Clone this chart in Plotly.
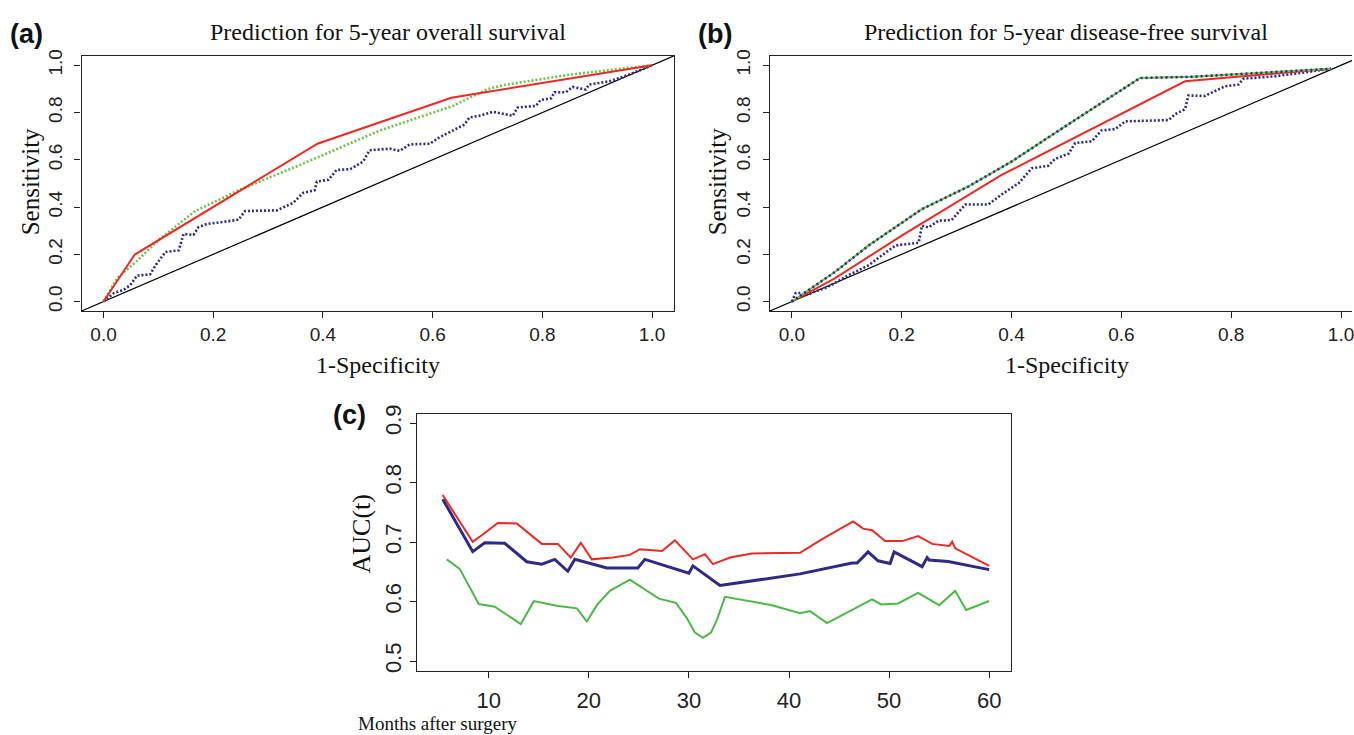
import plotly.graph_objects as go

# ---------------- data ----------------
# Panel (a): ROC, 5-year overall survival
a_red_fpr = [0.0, 0.057, 0.39, 0.634, 1.0]
a_red_tpr = [0.0, 0.199, 0.668, 0.8625, 1.0]

a_green_fpr = [0.0, 0.025, 0.06, 0.10, 0.167, 0.249, 0.35, 0.485, 0.504, 0.637, 0.698, 0.727, 0.849, 1.0]
a_green_tpr = [0.0, 0.099, 0.17, 0.26, 0.383, 0.474, 0.57, 0.703, 0.724, 0.828, 0.897, 0.915, 0.96, 1.0]

a_blue_fpr = [0.0, 0.019, 0.037, 0.049, 0.061, 0.085, 0.095, 0.104, 0.113, 0.137, 0.146, 0.164, 0.173,
              0.188, 0.213, 0.246, 0.258, 0.316, 0.346, 0.364, 0.385, 0.389, 0.41, 0.425, 0.449, 0.473,
              0.485, 0.522, 0.54, 0.558, 0.595, 0.613, 0.631, 0.658, 0.667, 0.685, 0.71, 0.728, 0.746,
              0.755, 0.788, 0.797, 0.816, 0.822, 0.843, 0.855, 0.867, 0.879, 0.885, 0.922, 0.958, 1.0]
a_blue_tpr = [0.0, 0.036, 0.05, 0.07, 0.11, 0.115, 0.154, 0.182, 0.21, 0.217, 0.286, 0.282, 0.314,
              0.328, 0.335, 0.346, 0.383, 0.386, 0.418, 0.46, 0.471, 0.508, 0.515, 0.557, 0.56, 0.592,
              0.64, 0.647, 0.6375, 0.665, 0.668, 0.696, 0.717, 0.749, 0.779, 0.786, 0.803, 0.796, 0.786,
              0.821, 0.828, 0.853, 0.86, 0.886, 0.886, 0.908, 0.901, 0.897, 0.918, 0.932, 0.96, 1.0]

# Panel (b): ROC, 5-year disease-free survival
b_red_fpr = [0.0, 0.079, 0.2, 0.382, 0.716, 0.982]
b_red_tpr = [0.0, 0.099, 0.279, 0.536, 0.932, 0.985]

b_green_fpr = [0.0, 0.079, 0.14, 0.236, 0.322, 0.4, 0.504, 0.634, 0.728, 0.849, 0.982]
b_green_tpr = [0.0, 0.126, 0.2375, 0.39, 0.4875, 0.592, 0.751, 0.946, 0.951, 0.967, 0.985]

b_blue_fpr = [0.0, 0.007, 0.016, 0.024, 0.043, 0.064, 0.104, 0.14, 0.164, 0.189, 0.231, 0.237, 0.249,
              0.267, 0.291, 0.316, 0.358, 0.382, 0.413, 0.437, 0.467, 0.479, 0.504, 0.516, 0.546, 0.564,
              0.589, 0.607, 0.686, 0.698, 0.716, 0.722, 0.752, 0.771, 0.789, 0.813, 0.822, 0.879, 0.982]
b_blue_tpr = [0.0, 0.036, 0.036, 0.026, 0.043, 0.06, 0.1125, 0.154, 0.196, 0.2375, 0.249, 0.321, 0.314,
              0.342, 0.345, 0.411, 0.411, 0.453, 0.501, 0.564, 0.575, 0.603, 0.626, 0.671, 0.678, 0.724,
              0.73, 0.7625, 0.768, 0.793, 0.814, 0.872, 0.87, 0.89, 0.911, 0.918, 0.943, 0.953, 0.985]

# Panel (c): time-dependent AUC
c_red_months = [5.4, 8.4, 9.4, 10.9, 12.8, 15.3, 16.9, 18.2, 19.2, 20.3, 22.4, 24.1, 25.1, 27.3, 28.6,
                30.4, 31.6, 32.4, 34.1, 36.3, 41.1, 43.1, 46.4, 47.4, 48.3, 49.6, 51.3, 52.9, 54.3,
                56.0, 56.3, 56.6, 60.0]
c_red_auc = [0.779, 0.7005, 0.7127, 0.732, 0.7314, 0.697, 0.697, 0.674, 0.699, 0.671, 0.674, 0.6785,
             0.688, 0.685, 0.7028, 0.671, 0.6797, 0.663, 0.674, 0.681, 0.682, 0.703, 0.7347, 0.7226,
             0.72, 0.7017, 0.7017, 0.71, 0.697, 0.6934, 0.7005, 0.6896, 0.660]

c_blue_months = [5.4, 8.4, 9.6, 11.6, 13.8, 15.3, 16.6, 17.9, 18.6, 21.8, 24.9, 25.6, 30.0, 30.4, 33.1,
                 41.1, 46.3, 46.8, 47.9, 48.9, 50.1, 50.5, 53.3, 53.8, 54.0, 55.9, 60.0]
c_blue_auc = [0.7722, 0.684, 0.699, 0.698, 0.667, 0.663, 0.671, 0.651, 0.671, 0.6565, 0.6565, 0.671,
              0.6476, 0.660, 0.627, 0.6466, 0.6648, 0.6648, 0.6835, 0.6686, 0.664, 0.6835, 0.6587,
              0.674, 0.67, 0.6675, 0.6537]

c_green_months = [5.8, 7.1, 9.0, 10.6, 13.2, 14.5, 16.8, 18.8, 19.8, 20.8, 22.1, 24.1, 27.0, 28.7, 29.8,
                  30.6, 31.4, 32.2, 32.8, 33.6, 38.3, 41.1, 42.1, 43.8, 48.3, 49.2, 50.9, 52.9, 55.0,
                  56.6, 57.7, 60.0]
c_green_auc = [0.671, 0.655, 0.596, 0.5915, 0.5623, 0.6008, 0.593, 0.5887, 0.5667, 0.594, 0.618, 0.637,
               0.605, 0.598, 0.572, 0.548, 0.539, 0.548, 0.5694, 0.608, 0.594, 0.5805, 0.584, 0.564,
               0.6036, 0.5953, 0.597, 0.6146, 0.594, 0.618, 0.586, 0.601]

roc_ticks = [0.0, 0.2, 0.4, 0.6, 0.8, 1.0]
roc_range = [-0.04, 1.04]
b_x_range = [-0.04, 1.02]
c_x_ticks = [10, 20, 30, 40, 50, 60]
c_y_ticks = [0.5, 0.6, 0.7, 0.8, 0.9]
c_x_range = [2.8, 62.2]
c_y_range = [0.484, 0.916]

# ---------------- style ----------------
W, H = 1354, 735
RED = "#EC2A23"
NAVY = "#2D2B85"
GREEN_DOT = "#6CC24A"
GREEN = "#4DB848"
SANS = "Liberation Sans, Arial, sans-serif"
SERIF = "Liberation Serif, Times New Roman, serif"


def px_x(p):
    return p / W


def px_y(p):
    return 1 - p / H


fig = go.Figure()

# Panel (a)
fig.add_trace(go.Scatter(x=roc_range, y=roc_range, mode="lines",
                         line=dict(color="black", width=1.2), xaxis="x", yaxis="y"))
fig.add_trace(go.Scatter(x=a_blue_fpr, y=a_blue_tpr, mode="lines",
                         line=dict(color=NAVY, width=2.6, dash="2px,2px"), xaxis="x", yaxis="y"))
fig.add_trace(go.Scatter(x=a_green_fpr, y=a_green_tpr, mode="lines",
                         line=dict(color=GREEN_DOT, width=2.6, dash="2px,2px"), xaxis="x", yaxis="y"))
fig.add_trace(go.Scatter(x=a_red_fpr, y=a_red_tpr, mode="lines",
                         line=dict(color=RED, width=2), xaxis="x", yaxis="y"))

# Panel (b)
fig.add_trace(go.Scatter(x=roc_range, y=roc_range, mode="lines",
                         line=dict(color="black", width=1.2), xaxis="x2", yaxis="y2"))
fig.add_trace(go.Scatter(x=b_blue_fpr, y=b_blue_tpr, mode="lines",
                         line=dict(color=NAVY, width=2.6, dash="2px,2px"), xaxis="x2", yaxis="y2"))
fig.add_trace(go.Scatter(x=b_red_fpr, y=b_red_tpr, mode="lines",
                         line=dict(color=RED, width=2), xaxis="x2", yaxis="y2"))
fig.add_trace(go.Scatter(x=b_green_fpr, y=b_green_tpr, mode="lines",
                         line=dict(color=GREEN_DOT, width=2), xaxis="x2", yaxis="y2"))
fig.add_trace(go.Scatter(x=b_green_fpr, y=b_green_tpr, mode="lines",
                         line=dict(color=NAVY, width=2.6, dash="2px,3px"), xaxis="x2", yaxis="y2"))

# Panel (c)
fig.add_trace(go.Scatter(x=c_green_months, y=c_green_auc, mode="lines",
                         line=dict(color=GREEN, width=2), xaxis="x3", yaxis="y3"))
fig.add_trace(go.Scatter(x=c_red_months, y=c_red_auc, mode="lines",
                         line=dict(color=RED, width=2), xaxis="x3", yaxis="y3"))
fig.add_trace(go.Scatter(x=c_blue_months, y=c_blue_auc, mode="lines",
                         line=dict(color=NAVY, width=3), xaxis="x3", yaxis="y3"))

axis_base = dict(showline=True, linecolor="#222", linewidth=1.2,
                 showgrid=False, zeroline=False, ticks="outside", ticklen=6,
                 tickcolor="#222", tickwidth=1.2)
axis_common = dict(mirror=True, **axis_base)

roc_tickfont = dict(family=SANS, size=19, color="#222")
c_tickfont = dict(family=SANS, size=22, color="#222")

fig.update_layout(
    width=W, height=H, autosize=False,
    margin=dict(l=0, r=0, t=0, b=0),
    paper_bgcolor="white", plot_bgcolor="white",
    showlegend=False,
    xaxis=dict(domain=[px_x(81.7), px_x(675)], range=roc_range, tickvals=roc_ticks,
               tickformat=".1f", tickfont=roc_tickfont, anchor="y", **axis_common),
    yaxis=dict(domain=[px_y(306.6), px_y(47.5)], range=roc_range, tickvals=roc_ticks,
               tickformat=".1f", tickfont=roc_tickfont, tickangle=-90, anchor="x",
               ticklabelstandoff=5, **axis_common),
    xaxis2=dict(domain=[px_x(771), 1.0], range=b_x_range, tickvals=roc_ticks,
                tickformat=".1f", tickfont=roc_tickfont, anchor="y2",
                ticklabeloverflow="allow", **axis_common),
    yaxis2=dict(domain=[px_y(306.6), px_y(47.5)], range=roc_range, tickvals=roc_ticks,
                tickformat=".1f", tickfont=roc_tickfont, tickangle=-90, anchor="x2",
                ticklabelstandoff=5, mirror=False, **axis_base),
    xaxis3=dict(domain=[px_x(417.3), px_x(1012.7)], range=c_x_range, tickvals=c_x_ticks,
                tickfont=c_tickfont, anchor="y3", ticklabelstandoff=4, **axis_common),
    yaxis3=dict(domain=[px_y(671.7), px_y(410.7)], range=c_y_range, tickvals=c_y_ticks,
                tickformat=".1f", tickfont=c_tickfont, tickangle=-90, anchor="x3", **axis_common),
)


def note(text, x, y, size, family, bold=False, angle=0, xanchor="center", yanchor="middle"):
    fig.add_annotation(text=("<b>%s</b>" % text) if bold else text,
                       x=px_x(x), y=px_y(y), xref="paper", yref="paper",
                       showarrow=False, textangle=angle, xanchor=xanchor, yanchor=yanchor,
                       font=dict(family=family, size=size, color="#111"))


note("(a)", 27, 25, 27, SANS, bold=True)
note("(b)", 716, 25, 27, SANS, bold=True)
note("(c)", 350, 412, 27, SANS, bold=True)
note("Prediction for 5-year overall survival", 389, 23, 24, SERIF)
note("Prediction for 5-year disease-free survival", 1068, 23, 24, SERIF)
note("Sensitivity", 30, 175, 25, SERIF, angle=-90)
note("Sensitivity", 718, 175, 25, SERIF, angle=-90)
note("1-Specificity", 379, 361, 24, SERIF)
note("1-Specificity", 1069, 361, 24, SERIF)
note("AUC(t)", 362, 533, 26, SERIF, angle=-90)
note("Months after surgery", 357, 725, 19, SERIF, xanchor="left")

fig.write_html("out.html", config={"displayModeBar": False},
               post_script="document.body.style.margin='0px';")
